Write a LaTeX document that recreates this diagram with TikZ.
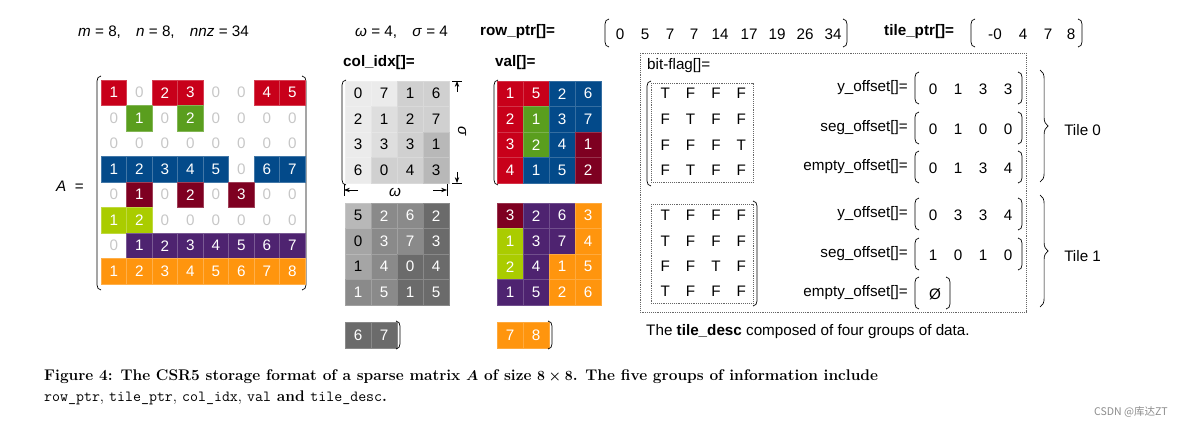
\documentclass[tikz,border=0pt]{standalone}
\usepackage{fontspec}
\newfontfamily\arial{Liberation Sans}
\newfontfamily\cjkf{Noto Sans CJK SC}
\usetikzlibrary{decorations.pathreplacing,arrows.meta}
\definecolor{cR}{HTML}{C8001A}
\definecolor{cG}{HTML}{5A9E1E}
\definecolor{cB}{HTML}{034A8A}
\definecolor{cD}{HTML}{7E0021}
\definecolor{cL}{HTML}{AACC00}
\definecolor{cP}{HTML}{4E2370}
\definecolor{cO}{HTML}{FF950E}
\definecolor{g1}{HTML}{EBEBEB}
\definecolor{g2}{HTML}{DEDEDE}
\definecolor{g3}{HTML}{D0D0D0}
\definecolor{g4}{HTML}{B8B8B8}
\definecolor{g5}{HTML}{A5A5A5}
\definecolor{g6}{HTML}{8A8A8A}
\definecolor{g7}{HTML}{6B6B6B}
\newcommand\lbr[3]{\draw[brk] (#1+4,#2) to[out=180,in=90] (#1,#2+5) -- (#1,#3-5) to[out=-90,in=180] (#1+4,#3);}
\newcommand\rbr[3]{\draw[brk] (#1-4,#2) to[out=0,in=90] (#1,#2+5) -- (#1,#3-5) to[out=-90,in=0] (#1-4,#3);}
\begin{document}
\begin{tikzpicture}[x=0.03cm,y=-0.03cm,
  txt/.style={font=\arial\fontsize{13}{15}\selectfont,inner sep=0pt},
  cell/.style={txt,minimum width=25.5*0.03cm,minimum height=25.5*0.03cm,text=white,draw=white!25!#1,fill=#1,line width=0.3pt},
  zero/.style={txt,text=black!22},
  sq/.style={txt,minimum width=26*0.03cm,minimum height=25.5*0.03cm,draw=white!20!#1,fill=#1,line width=0.3pt},
  brk/.style={line width=0.6pt},
  dotbox/.style={draw=black!60,densely dotted,line width=0.6pt}]
\useasboundingbox (0,0) rectangle (1181,429);
% top line
\node[txt,anchor=west] (mn) at (78,32) {\textit{m} = 8,\quad \textit{n} = 8,\quad \textit{nnz} = 34};
\node[txt,anchor=west] (ws) at (355,32) {\textit{ω} = 4,\quad \textit{σ} = 4};
\node[txt,anchor=west] (rpl) at (480,32) {\bfseries row\_ptr[]=};
\lbr{605}{19}{47}\rbr{847}{19}{47}
\foreach \v/\x [count=\i] in {0/620,5/645,7/670,7/694,14/720,17/749,19/777,26/805,34/833}
  \node[txt] (rp\i) at (\x,34) {\v};
\node[txt,anchor=west] (tpl) at (884,32) {\bfseries tile\_ptr[]=};
\lbr{971}{19}{47}\rbr{1082}{19}{47}
\foreach \v/\x [count=\i] in {-0/995,4/1023,7/1048,8/1071}
  \node[txt] (tp\i) at (\x,34) {\v};
% matrix A
\node[txt] (Alab) at (70,186) {\textit{A}\ \ =};
\lbr{97}{76}{290}\rbr{306}{76}{290}
\foreach \r/\col/\items in {0/cR/{0/1,2/2,3/3,6/4,7/5},1/cG/{1/1,3/2},3/cB/{0/1,1/2,2/3,3/4,4/5,6/6,7/7},4/cD/{1/1,3/2,5/3},5/cL/{0/1,1/2},6/cP/{1/1,2/2,3/3,4/4,5/5,6/6,7/7},7/cO/{0/1,1/2,2/3,3/4,4/5,5/6,6/7,7/8}}
  \foreach \c/\v in \items
    \node[cell=\col] (A-\r-\c) at (113.75+25.5*\c,92.75+25.5*\r) {\v};
\foreach \r/\zs in {0/{1,4,5},1/{0,2,4,5,6,7},2/{0,1,2,3,4,5,6,7},3/{5},4/{0,2,4,6,7},5/{2,3,4,5,6,7},6/{0}}
  \foreach \c in \zs
    \node[zero] (A-\r-\c) at (113.75+25.5*\c,92.75+25.5*\r) {0};
% col_idx
\node[txt,anchor=west] (cil) at (343,63) {\bfseries col\_idx[]=};
\foreach \k/\j/\v/\s/\t in {0/0/0/g1/black,0/1/2/g1/black,0/2/3/g1/black,0/3/6/g1/black,1/0/7/g1/black,1/1/1/g2/black,1/2/3/g2/black,1/3/0/g3/black,2/0/1/g3/black,2/1/2/g3/black,2/2/3/g3/black,2/3/4/g3/black,3/0/6/g3/black,3/1/7/g3/black,3/2/1/g4/black,3/3/3/g4/black}
  \node[sq=\s,text=\t] (ci0-\k-\j) at (358+26*\k,93.75+25.5*\j) {\v};
\foreach \k/\j/\v/\s/\t in {0/0/5/g4/black,0/1/0/g5/black,0/2/1/g5/black,0/3/1/g6/white,1/0/2/g6/white,1/1/3/g6/white,1/2/4/g6/white,1/3/5/g6/white,2/0/6/g6/white,2/1/7/g6/white,2/2/0/g7/white,2/3/1/g7/white,3/0/2/g7/white,3/1/3/g7/white,3/2/4/g7/white,3/3/5/g7/white}
  \node[sq=\s,text=\t] (ci1-\k-\j) at (358+26*\k,215.75+25.5*\j) {\v};
\node[sq=g7,text=white] (cit0) at (358,335) {6};
\node[sq=g7,text=white] (cit1) at (384,335) {7};
\lbr{342}{80}{185}\rbr{400}{321}{349}
% sigma / omega
\coordinate (st) at (457,81); \coordinate (sb) at (457,183);
\draw[line width=0.6pt] (452,81) -- (462,81) (452,183) -- (462,183);
\draw[-{Stealth[length=5pt]},line width=0.6pt] (457,92) -- (st);
\draw[-{Stealth[length=5pt]},line width=0.6pt] (457,172) -- (sb);
\node[txt,rotate=-90] (sig) at (462,131) {\textit{σ}};
\coordinate (wl) at (344,190); \coordinate (wr) at (447,190);
\draw[line width=0.6pt] (344,184) -- (344,196) (447,184) -- (447,196);
\draw[-{Stealth[length=5pt]},line width=0.6pt] (358,190) -- (wl);
\draw[-{Stealth[length=5pt]},line width=0.6pt] (433,190) -- (wr);
\node[txt] (om) at (395,192) {\textit{ω}};
% val
\node[txt,anchor=west] (vl) at (495,63) {\bfseries val[]=};
\foreach \k/\j/\v/\s in {0/0/1/cR,0/1/2/cR,0/2/3/cR,0/3/4/cR,1/0/5/cR,1/1/1/cG,1/2/2/cG,1/3/1/cB,2/0/2/cB,2/1/3/cB,2/2/4/cB,2/3/5/cB,3/0/6/cB,3/1/7/cB,3/2/1/cD,3/3/2/cD}
  \node[sq=\s,text=white] (v0-\k-\j) at (510+26*\k,93.75+25.5*\j) {\v};
\foreach \k/\j/\v/\s in {0/0/3/cD,0/1/1/cL,0/2/2/cL,0/3/1/cP,1/0/2/cP,1/1/3/cP,1/2/4/cP,1/3/5/cP,2/0/6/cP,2/1/7/cP,2/2/1/cO,2/3/2/cO,3/0/3/cO,3/1/4/cO,3/2/5/cO,3/3/6/cO}
  \node[sq=\s,text=white] (v1-\k-\j) at (510+26*\k,215.75+25.5*\j) {\v};
\node[sq=cO,text=white] (vt0) at (510,335) {7};
\node[sq=cO,text=white] (vt1) at (536,335) {8};
\lbr{494}{80}{185}\rbr{552}{321}{349}
% tile_desc
\draw[dotbox] (640,53) rectangle (1026,312);
\node[txt,anchor=west] (bfl) at (647,66) {bit-flag[]=};
\draw[dotbox] (651,83) rectangle (753,182);
\draw[dotbox] (651,204) rectangle (753,303);
\lbr{647}{81}{186}\rbr{757}{201}{306}
\foreach \row/\vals/\y in {0/{T,F,F,F}/93,1/{F,T,F,F}/119,2/{F,F,F,T}/145,3/{F,T,F,F}/170,4/{T,F,F,F}/215,5/{T,F,F,F}/241,6/{F,F,T,F}/266,7/{T,F,F,F}/291}
  \foreach \b [count=\i] in \vals
    \node[txt] (bf\row-\i) at (640+25.3*\i,\y) {\b};
\foreach \lab/\vals/\y [count=\n] in {y\_offset/{0,1,3,3}/88,seg\_offset/{0,1,0,0}/128,empty\_offset/{0,1,3,4}/167,y\_offset/{0,3,3,4}/214,seg\_offset/{1,0,1,0}/254}{
  \node[txt,anchor=east] (ol\n) at (908,\y) {\lab[]=};
  \lbr{915}{\y-16}{\y+16}\rbr{1022}{\y-16}{\y+16}
  \foreach \v [count=\i] in \vals \node[txt] (ov\n-\i) at (908+25*\i,\y+1) {\v};
}
\node[txt,anchor=east] (ol6) at (908,293) {empty\_offset[]=};
\lbr{915}{277}{309}\rbr{950}{277}{309}
\node[txt] (ov6) at (935,294) {Ø};
\draw[decorate,decoration={brace,amplitude=7pt},line width=0.6pt] (1040,70) -- (1040,182);
\draw[decorate,decoration={brace,amplitude=7pt},line width=0.6pt] (1040,195) -- (1040,307);
\node[txt,anchor=west] (t0) at (1064,130) {Tile 0};
\node[txt,anchor=west] (t1) at (1064,256) {Tile 1};
\node[txt,anchor=west] (desc) at (646,332) {The \textbf{tile\_desc} composed of four groups of data.};
% caption
\node[anchor=west,inner sep=0pt,font=\fontsize{13.2}{16}\selectfont\bfseries\boldmath] (cap1) at (44,377) {Figure 4: The CSR5 storage format of a sparse matrix $A$ of size $8\times8$. The five groups of information include};
\node[anchor=west,inner sep=0pt,font=\fontsize{13.2}{16}\selectfont\bfseries] (cap2) at (44,398) {\mdseries\texttt{row\_ptr}, \texttt{tile\_ptr}, \texttt{col\_idx}, \texttt{val}\bfseries{} and \mdseries\texttt{tile\_desc}\bfseries.};
\node[anchor=east,inner sep=0pt,text=black!45,font=\cjkf\fontsize{9}{11}\selectfont] (wm) at (1168,412) {CSDN @库达ZT};
\end{tikzpicture}
\end{document}
